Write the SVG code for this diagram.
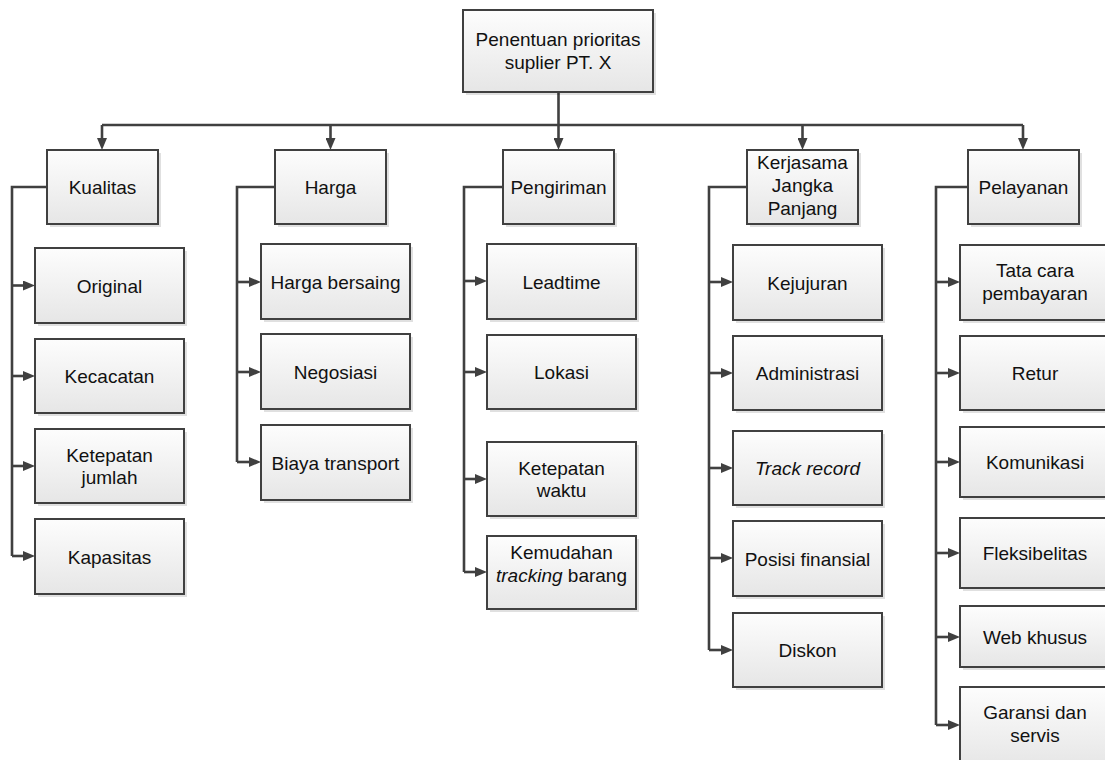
<svg xmlns="http://www.w3.org/2000/svg" width="1105" height="760" viewBox="0 0 1105 760">
<style>
.box{fill:url(#g);stroke:#404040;stroke-width:2}
.sh{fill:#000;opacity:0.12}
.t{font-family:"Liberation Sans",Arial,sans-serif;font-size:19px;fill:#111;text-anchor:middle}
.i{font-style:italic}
.c{fill:none;stroke:#404040;stroke-width:2.6;marker-end:url(#a)}
.l{fill:none;stroke:#404040;stroke-width:2.6}
</style>
<defs>
<linearGradient id="g" x1="0" y1="0" x2="0" y2="1">
<stop offset="0" stop-color="#fdfdfd"/>
<stop offset="1" stop-color="#e6e6e6"/>
</linearGradient>
<marker id="a" viewBox="0 0 12 10" refX="6" refY="5" markerWidth="12" markerHeight="10" markerUnits="userSpaceOnUse" orient="auto">
<path d="M0,0 L12,5 L0,10 z" fill="#404040"/>
</marker>
</defs>
<rect width="1105" height="760" fill="#fff"/>
<g id="connectors">
<path class="l" d="M558.5,92 V125 M102,125 H1023"/>
<path class="c" d="M558.5,125 V144"/>
<path class="c" d="M102,125 V144"/>
<path class="c" d="M330.5,125 V144"/>
<path class="c" d="M802.5,125 V144"/>
<path class="c" d="M1023,125 V144"/>
<path class="l" d="M47,187 H12 V556"/>
<path class="c" d="M12,285.5 H29"/>
<path class="c" d="M12,376 H29"/>
<path class="c" d="M12,466 H29"/>
<path class="c" d="M12,556 H29"/>
<path class="l" d="M275,187 H237 V462"/>
<path class="c" d="M237,282 H255"/>
<path class="c" d="M237,372 H255"/>
<path class="c" d="M237,462 H255"/>
<path class="l" d="M503,187 H464 V572"/>
<path class="c" d="M464,281 H481"/>
<path class="c" d="M464,372 H481"/>
<path class="c" d="M464,479 H481"/>
<path class="c" d="M464,572 H481"/>
<path class="l" d="M747,187 H709 V650"/>
<path class="c" d="M709,282 H727"/>
<path class="c" d="M709,373 H727"/>
<path class="c" d="M709,468 H727"/>
<path class="c" d="M709,558 H727"/>
<path class="c" d="M709,650 H727"/>
<path class="l" d="M968,187 H936 V725"/>
<path class="c" d="M936,282 H954"/>
<path class="c" d="M936,373 H954"/>
<path class="c" d="M936,462 H954"/>
<path class="c" d="M936,553 H954"/>
<path class="c" d="M936,637 H954"/>
<path class="c" d="M936,725 H954"/>
</g>
<g id="root"><rect class="sh" x="466" y="13" width="190" height="82"/><rect class="box" x="463" y="10" width="190" height="82"/><text class="t" x="558" y="46">Penentuan prioritas</text><text class="t" x="558" y="68.5">suplier PT. X</text></g>
<g id="kualitas"><rect class="sh" x="50" y="153" width="111" height="74"/><rect class="box" x="47" y="150" width="111" height="74"/><text class="t" x="102.5" y="194">Kualitas</text></g>
<g id="harga"><rect class="sh" x="278" y="153" width="111" height="74"/><rect class="box" x="275" y="150" width="111" height="74"/><text class="t" x="330.5" y="194">Harga</text></g>
<g id="pengiriman"><rect class="sh" x="506" y="153" width="111" height="74"/><rect class="box" x="503" y="150" width="111" height="74"/><text class="t" x="558.5" y="194">Pengiriman</text></g>
<g id="kerjasama"><rect class="sh" x="750" y="153" width="111" height="74"/><rect class="box" x="747" y="150" width="111" height="74"/><text class="t" x="802.5" y="169">Kerjasama</text><text class="t" x="802.5" y="192">Jangka</text><text class="t" x="802.5" y="215">Panjang</text></g>
<g id="pelayanan"><rect class="sh" x="971" y="153" width="111" height="74"/><rect class="box" x="968" y="150" width="111" height="74"/><text class="t" x="1023.5" y="194">Pelayanan</text></g>
<g id="original"><rect class="sh" x="38" y="251" width="149" height="75"/><rect class="box" x="35" y="248" width="149" height="75"/><text class="t" x="109.5" y="292.5">Original</text></g>
<g id="kecacatan"><rect class="sh" x="38" y="342" width="149" height="74"/><rect class="box" x="35" y="339" width="149" height="74"/><text class="t" x="109.5" y="383">Kecacatan</text></g>
<g id="ketepatan-jumlah"><rect class="sh" x="38" y="432" width="149" height="74"/><rect class="box" x="35" y="429" width="149" height="74"/><text class="t" x="109.5" y="461.5">Ketepatan</text><text class="t" x="109.5" y="484">jumlah</text></g>
<g id="kapasitas"><rect class="sh" x="38" y="522" width="149" height="75"/><rect class="box" x="35" y="519" width="149" height="75"/><text class="t" x="109.5" y="563.5">Kapasitas</text></g>
<g id="harga-bersaing"><rect class="sh" x="264" y="247" width="149" height="75"/><rect class="box" x="261" y="244" width="149" height="75"/><text class="t" x="335.5" y="288.5">Harga bersaing</text></g>
<g id="negosiasi"><rect class="sh" x="264" y="337" width="149" height="75"/><rect class="box" x="261" y="334" width="149" height="75"/><text class="t" x="335.5" y="378.5">Negosiasi</text></g>
<g id="biaya-transport"><rect class="sh" x="264" y="428" width="149" height="75"/><rect class="box" x="261" y="425" width="149" height="75"/><text class="t" x="335.5" y="469.5">Biaya transport</text></g>
<g id="leadtime"><rect class="sh" x="490" y="247" width="149" height="75"/><rect class="box" x="487" y="244" width="149" height="75"/><text class="t" x="561.5" y="288.5">Leadtime</text></g>
<g id="lokasi"><rect class="sh" x="490" y="338" width="149" height="74"/><rect class="box" x="487" y="335" width="149" height="74"/><text class="t" x="561.5" y="379">Lokasi</text></g>
<g id="ketepatan-waktu"><rect class="sh" x="490" y="445" width="149" height="74"/><rect class="box" x="487" y="442" width="149" height="74"/><text class="t" x="561.5" y="474.5">Ketepatan</text><text class="t" x="561.5" y="497">waktu</text></g>
<g id="kemudahan"><rect class="sh" x="490" y="539" width="149" height="73"/><rect class="box" x="487" y="536" width="149" height="73"/><text class="t" x="561.5" y="559">Kemudahan</text><text class="t" x="561.5" y="581.5"><tspan class="i">tracking</tspan> barang</text></g>
<g id="kejujuran"><rect class="sh" x="736" y="248" width="149" height="75"/><rect class="box" x="733" y="245" width="149" height="75"/><text class="t" x="807.5" y="289.5">Kejujuran</text></g>
<g id="administrasi"><rect class="sh" x="736" y="339" width="149" height="74"/><rect class="box" x="733" y="336" width="149" height="74"/><text class="t" x="807.5" y="380">Administrasi</text></g>
<g id="track-record"><rect class="sh" x="736" y="434" width="149" height="74"/><rect class="box" x="733" y="431" width="149" height="74"/><text class="t i" x="807.5" y="475">Track record</text></g>
<g id="posisi-finansial"><rect class="sh" x="736" y="524" width="149" height="75"/><rect class="box" x="733" y="521" width="149" height="75"/><text class="t" x="807.5" y="565.5">Posisi finansial</text></g>
<g id="diskon"><rect class="sh" x="736" y="616" width="149" height="74"/><rect class="box" x="733" y="613" width="149" height="74"/><text class="t" x="807.5" y="657">Diskon</text></g>
<g id="tata-cara"><rect class="sh" x="963" y="248" width="150" height="75"/><rect class="box" x="960" y="245" width="150" height="75"/><text class="t" x="1035" y="277">Tata cara</text><text class="t" x="1035" y="299.5">pembayaran</text></g>
<g id="retur"><rect class="sh" x="963" y="339" width="150" height="74"/><rect class="box" x="960" y="336" width="150" height="74"/><text class="t" x="1035" y="380">Retur</text></g>
<g id="komunikasi"><rect class="sh" x="963" y="430" width="150" height="70"/><rect class="box" x="960" y="427" width="150" height="70"/><text class="t" x="1035" y="469">Komunikasi</text></g>
<g id="fleksibelitas"><rect class="sh" x="963" y="521" width="150" height="70"/><rect class="box" x="960" y="518" width="150" height="70"/><text class="t" x="1035" y="560">Fleksibelitas</text></g>
<g id="web-khusus"><rect class="sh" x="963" y="609" width="150" height="61"/><rect class="box" x="960" y="606" width="150" height="61"/><text class="t" x="1035" y="644">Web khusus</text></g>
<g id="garansi"><rect class="sh" x="963" y="690" width="150" height="80"/><rect class="box" x="960" y="687" width="150" height="80"/><text class="t" x="1035" y="719">Garansi dan</text><text class="t" x="1035" y="742">servis</text></g>
</svg>
